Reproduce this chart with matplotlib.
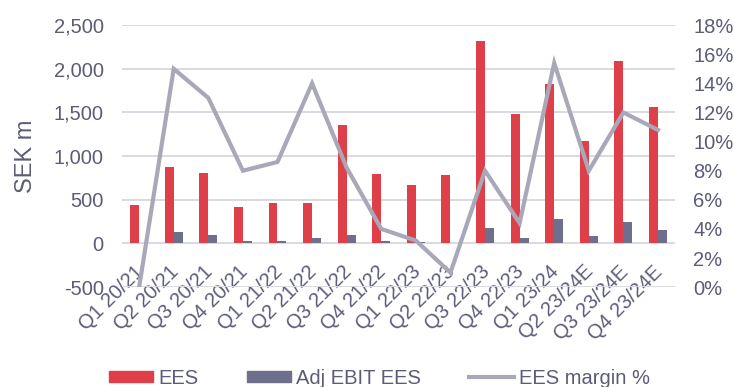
import numpy as np
import matplotlib
matplotlib.use("Agg")
import matplotlib.pyplot as plt
import matplotlib.transforms as mtransforms
from matplotlib.ticker import FuncFormatter, MultipleLocator
from matplotlib.lines import Line2D
from matplotlib.patches import Patch

# ------------------------------------------------------------------
# Data (SEK m and margin %)
# ------------------------------------------------------------------
quarters = ["Q1 20/21", "Q2 20/21", "Q3 20/21", "Q4 20/21",
            "Q1 21/22", "Q2 21/22", "Q3 21/22", "Q4 21/22",
            "Q1 22/23", "Q2 22/23", "Q3 22/23", "Q4 22/23",
            "Q1 23/24", "Q2 23/24E", "Q3 23/24E", "Q4 23/24E"]
ees = [440, 880, 810, 420, 460, 460, 1360, 800,
       670, 780, 2320, 1480, 1830, 1170, 2090, 1560]
adj_ebit = [0, 130, 100, 30, 30, 60, 100, 30,
            15, 5, 180, 60, 280, 90, 250, 160]
margin_pct = [0.0, 15.0, 13.0, 8.0, 8.6, 14.0, 8.2, 4.0,
              3.2, 1.0, 8.0, 4.4, 15.4, 8.0, 12.0, 10.8]

# ------------------------------------------------------------------
# Style
# ------------------------------------------------------------------
c_ees = "#DF3F48"
c_ebit = "#6E6E8D"
c_line = "#A8A8B8"
c_text = "#5C5C78"
c_grid = "#D9D9E1"

plt.rcParams['font.family'] = ['Liberation Sans', 'DejaVu Sans']
fs = 14.5

fig = plt.figure(figsize=(7.34, 3.87), dpi=100)
ax = fig.add_axes([0.166, 0.258, 0.754, 0.677])

x = np.arange(len(quarters))
w = 0.26
ax.bar(x - w / 2, ees, width=w, color=c_ees, zorder=2)
ax.bar(x + w / 2, adj_ebit, width=w, color=c_ebit, zorder=2)

ax.set_xlim(-0.5, len(quarters) - 0.5)
ax.set_ylim(-500, 2500)
ax.yaxis.set_major_locator(MultipleLocator(500))
ax.yaxis.set_major_formatter(FuncFormatter(lambda v, p: f"{v:,.0f}"))
ax.grid(axis='y', color=c_grid, linewidth=1.4, zorder=0)
ax.set_axisbelow(True)
ax.set_xticks(x)
ax.set_xticklabels(quarters, rotation=45, ha='right', rotation_mode='anchor',
                   fontsize=14.5, color=c_text)
ax.tick_params(axis='x', length=0, pad=-16)
ax.tick_params(axis='y', length=0, pad=13, labelsize=fs, labelcolor=c_text)
ax.set_ylabel("SEK m", fontsize=17, color=c_text, labelpad=12)
for s in ax.spines.values():
    s.set_visible(False)

# nudge rotated quarter labels a little left/up
shift = mtransforms.ScaledTranslation(-5 / 100, 3 / 100, fig.dpi_scale_trans)
for lab in ax.get_xticklabels():
    lab.set_transform(lab.get_transform() + shift)

ax2 = ax.twinx()
ax2.plot(x, margin_pct, color=c_line, linewidth=3.0, solid_joinstyle='miter', zorder=3)
ax2.set_ylim(0, 18)
ax2.yaxis.set_major_locator(MultipleLocator(2))
ax2.yaxis.set_major_formatter(FuncFormatter(lambda v, p: f"{v:.0f}%"))
ax2.tick_params(axis='y', length=0, pad=13, labelsize=fs, labelcolor=c_text)
for s in ax2.spines.values():
    s.set_visible(False)

handles = [Patch(color=c_ees, label="EES"),
           Patch(color=c_ebit, label="Adj EBIT EES"),
           Line2D([0], [0], color=c_line, linewidth=3.0, label="EES margin %")]
leg = fig.legend(handles=handles, loc='center', bbox_to_anchor=(0.517, 0.023),
                 ncol=3, frameon=False, fontsize=fs, handlelength=2.2,
                 handleheight=0.5, handletextpad=0.25, columnspacing=2.4,
                 borderpad=0)
for t in leg.get_texts():
    t.set_color(c_text)

fig.savefig("out.png", dpi=100)
